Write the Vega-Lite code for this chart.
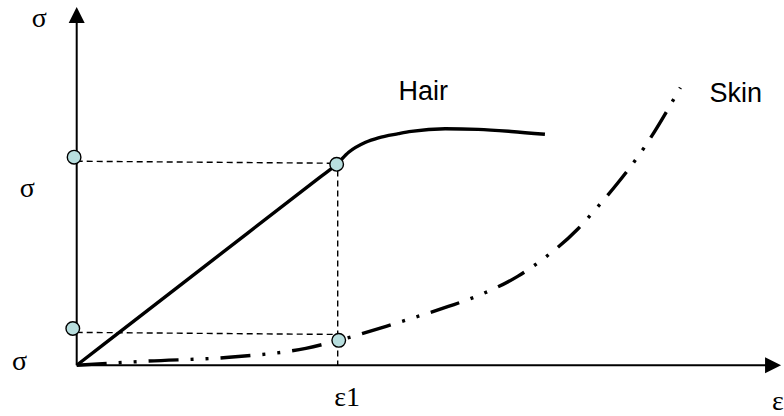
{
  "$schema": "https://vega.github.io/schema/vega-lite/v6.json",
  "width": 784,
  "height": 416,
  "autosize": {"type": "fit", "contains": "padding"},
  "padding": 0,
  "background": "white",
  "config": {"view": {"stroke": null}},
  "datasets": {
    "hair": [
      {"strain": 0.0, "stress": 0.0},
      {"strain": 0.5, "stress": 0.4945},
      {"strain": 0.93, "stress": 0.9197},
      {"strain": 0.996, "stress": 0.985},
      {"strain": 1.042, "stress": 1.044},
      {"strain": 1.107, "stress": 1.093},
      {"strain": 1.156, "stress": 1.115},
      {"strain": 1.233, "stress": 1.135},
      {"strain": 1.282, "stress": 1.146},
      {"strain": 1.412, "stress": 1.159},
      {"strain": 1.538, "stress": 1.156},
      {"strain": 1.664, "stress": 1.146},
      {"strain": 1.794, "stress": 1.132}
    ],
    "skin": [
      {"strain": 0.0, "stress": 0.0},
      {"strain": 0.267, "stress": 0.02},
      {"strain": 0.584, "stress": 0.039},
      {"strain": 0.878, "stress": 0.083},
      {"strain": 1.004, "stress": 0.122},
      {"strain": 1.233, "stress": 0.21},
      {"strain": 1.424, "stress": 0.288},
      {"strain": 1.538, "stress": 0.341},
      {"strain": 1.691, "stress": 0.437},
      {"strain": 1.786, "stress": 0.52},
      {"strain": 1.92, "stress": 0.668},
      {"strain": 1.996, "stress": 0.776},
      {"strain": 2.073, "stress": 0.893},
      {"strain": 2.176, "stress": 1.07},
      {"strain": 2.313, "stress": 1.361}
    ],
    "guides": [
      {"x0": 0.0, "y0": 1.0, "x1": 0.996, "y1": 0.99},
      {"x0": 1.0, "y0": 0.955, "x1": 1.0, "y1": 0.0},
      {"x0": 0.0, "y0": 0.161, "x1": 0.996, "y1": 0.151}
    ],
    "dots": [
      {"strain": -0.01, "stress": 1.02},
      {"strain": 0.996, "stress": 0.985},
      {"strain": -0.015, "stress": 0.18},
      {"strain": 1.004, "stress": 0.122}
    ],
    "axes": [
      {"x0": 0.0, "y0": 0.0, "x1": 0.0, "y1": 1.68},
      {"x0": 0.0, "y0": 0.0, "x1": 2.655, "y1": 0.0}
    ],
    "arrowsUp": [{"strain": 0.0, "stress": 1.717}],
    "arrowsRight": [{"strain": 2.668, "stress": 0.0}],
    "serifLabels": [
      {"strain": -0.143, "stress": 1.659, "label": "σ"},
      {"strain": -0.189, "stress": 0.824, "label": "σ"},
      {"strain": -0.219, "stress": -0.024, "label": "σ"},
      {"strain": 1.036, "stress": -0.2, "label": "ε1"}
    ],
    "edgeLabels": [
      {"strain": 2.664, "stress": -0.2195, "label": "ε"}
    ],
    "curveLabels": [
      {"strain": 1.328, "stress": 1.302, "label": "Hair"},
      {"strain": 2.525, "stress": 1.288, "label": "Skin"}
    ]
  },
  "encoding": {
    "x": {"field": "strain", "type": "quantitative", "scale": {"domain": [-0.29389, 2.69847], "nice": false, "zero": false}, "axis": null},
    "y": {"field": "stress", "type": "quantitative", "scale": {"domain": [-0.23902, 1.79024], "nice": false, "zero": false}, "axis": null}
  },
  "layer": [
    {
      "data": {"name": "guides"},
      "mark": {"type": "rule", "color": "black", "strokeWidth": 1.4, "strokeDash": [6, 4]},
      "encoding": {
        "x": {"field": "x0", "type": "quantitative"},
        "y": {"field": "y0", "type": "quantitative"},
        "x2": {"field": "x1"},
        "y2": {"field": "y1"}
      }
    },
    {
      "data": {"name": "axes"},
      "mark": {"type": "rule", "color": "black", "strokeWidth": 2},
      "encoding": {
        "x": {"field": "x0", "type": "quantitative"},
        "y": {"field": "y0", "type": "quantitative"},
        "x2": {"field": "x1"},
        "y2": {"field": "y1"}
      }
    },
    {
      "data": {"name": "arrowsUp"},
      "mark": {"type": "point", "shape": "M-1,1L0,-1L1,1Z", "filled": true, "color": "black", "size": 256, "opacity": 1}
    },
    {
      "data": {"name": "arrowsRight"},
      "mark": {"type": "point", "shape": "M-1,-1L1,0L-1,1Z", "filled": true, "color": "black", "size": 256, "opacity": 1}
    },
    {
      "data": {"name": "hair"},
      "mark": {"type": "line", "color": "black", "strokeWidth": 3.4, "interpolate": "monotone"}
    },
    {
      "data": {"name": "skin"},
      "mark": {"type": "line", "color": "black", "strokeWidth": 3.4, "interpolate": "monotone", "strokeDash": [30, 12, 3, 12, 3, 12], "strokeCap": "butt"}
    },
    {
      "data": {"name": "dots"},
      "mark": {"type": "point", "shape": "circle", "filled": true, "fill": "#b8dede", "stroke": "black", "strokeWidth": 1.4, "size": 185, "opacity": 1}
    },
    {
      "data": {"name": "serifLabels"},
      "mark": {"type": "text", "font": "Liberation Serif", "fontSize": 28, "color": "black", "baseline": "alphabetic", "align": "center"},
      "encoding": {"text": {"field": "label"}}
    },
    {
      "data": {"name": "edgeLabels"},
      "mark": {"type": "text", "font": "Liberation Serif", "fontSize": 28, "color": "black", "baseline": "alphabetic", "align": "left"},
      "encoding": {"text": {"field": "label"}}
    },
    {
      "data": {"name": "curveLabels"},
      "mark": {"type": "text", "font": "Liberation Sans", "fontSize": 27, "color": "black", "baseline": "alphabetic", "align": "center"},
      "encoding": {"text": {"field": "label"}}
    }
  ]
}
